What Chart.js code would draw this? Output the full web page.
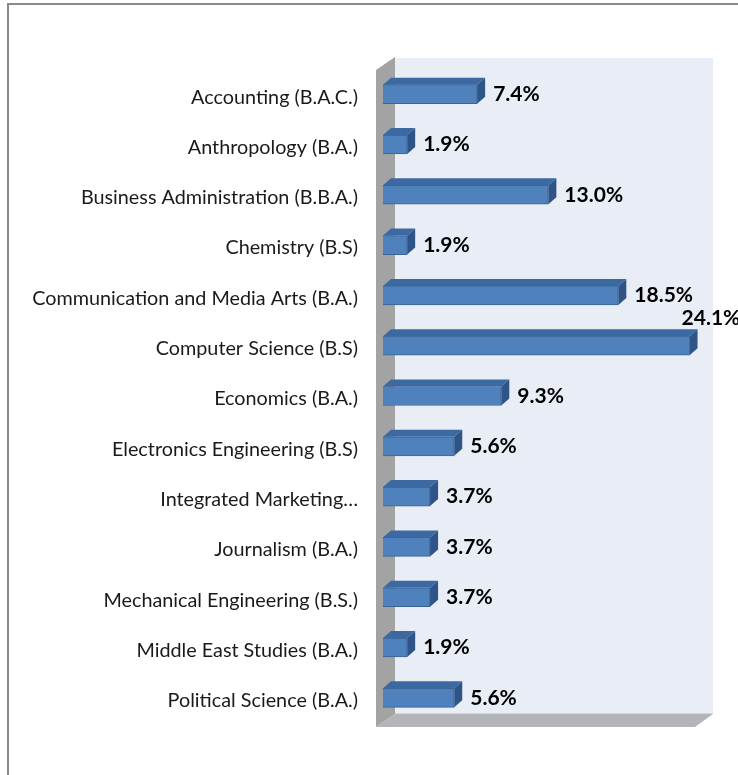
<!DOCTYPE html>
<html lang="en">
<head>
    <meta charset="UTF-8">
    <title>Majors</title>
    <style>
        body { margin: 0; background: #fff; }
        canvas { display: block; }
    </style>
</head>
<body>
    <canvas id="grafico" width="738" height="775"></canvas>

<script src="https://cdn.jsdelivr.net/npm/chart.js"></script>
<script>
    const categories = [
        'Accounting (B.A.C.)',
        'Anthropology (B.A.)',
        'Business Administration (B.B.A.)',
        'Chemistry (B.S)',
        'Communication and Media Arts (B.A.)',
        'Computer Science (B.S)',
        'Economics (B.A.)',
        'Electronics Engineering (B.S)',
        'Integrated Marketing\u2026',
        'Journalism (B.A.)',
        'Mechanical Engineering (B.S.)',
        'Middle East Studies (B.A.)',
        'Political Science (B.A.)'
    ];
    const percentages = [7.4, 1.9, 13.0, 1.9, 18.5, 24.1, 9.3, 5.6, 3.7, 3.7, 3.7, 1.9, 5.6];
    const axisMax = 25;

    // caixa 3D: parede, chao e faces das barras
    const efeito3d = {
        id: 'efeito3d',
        beforeDraw(chart) {
            const c = chart.ctx;
            c.save();
            c.strokeStyle = '#8a8a8a';
            c.lineWidth = 2;
            c.beginPath();
            c.moveTo(8, 775);
            c.lineTo(8, 4);
            c.lineTo(738, 4);
            c.stroke();
            c.restore();
        },
        beforeDatasetsDraw(chart) {
            const c = chart.ctx;
            const a = chart.chartArea;
            c.save();
            // parede do fundo
            c.fillStyle = '#E9EDF6';
            c.fillRect(a.left + 12, a.top - 11, a.right - a.left, a.bottom - a.top + 2);
            // parede esquerda
            c.fillStyle = '#A3A3A3';
            c.beginPath();
            c.moveTo(a.left - 7, a.top + 1);
            c.lineTo(a.left + 12, a.top - 12);
            c.lineTo(a.left + 12, a.bottom - 9);
            c.lineTo(a.left - 7, a.bottom + 4);
            c.closePath();
            c.fill();
            // chao
            c.fillStyle = '#B3B5B9';
            c.beginPath();
            c.moveTo(a.left - 7, a.bottom + 4);
            c.lineTo(a.right - 6, a.bottom + 4);
            c.lineTo(a.right + 12, a.bottom - 9);
            c.lineTo(a.left + 12, a.bottom - 9);
            c.closePath();
            c.fill();
            c.strokeStyle = '#D4D6D9';
            c.lineWidth = 1;
            c.beginPath();
            c.moveTo(a.left + 12, a.bottom - 9.5);
            c.lineTo(a.right + 12, a.bottom - 9.5);
            c.stroke();
            c.restore();
        },
        afterDatasetsDraw(chart) {
            const c = chart.ctx;
            const meta = chart.getDatasetMeta(0);
            c.save();
            meta.data.forEach((bar, i) => {
                const p = bar.getProps(['x', 'y', 'base', 'height'], true);
                const top = p.y - p.height / 2;
                const bot = p.y + p.height / 2;
                // face de cima
                c.fillStyle = '#3D69A3';
                c.beginPath();
                c.moveTo(p.base, top);
                c.lineTo(p.x, top);
                c.lineTo(p.x + 8, top - 7);
                c.lineTo(p.base + 8, top - 7);
                c.closePath();
                c.fill();
                // face lateral
                c.fillStyle = '#2F5487';
                c.beginPath();
                c.moveTo(p.x, top);
                c.lineTo(p.x + 8, top - 7);
                c.lineTo(p.x + 8, bot - 7);
                c.lineTo(p.x, bot);
                c.closePath();
                c.fill();

                // rotulo
                const txt = percentages[i].toFixed(1) + '%';
                c.font = 'bold 21px Lato';
                c.fillStyle = '#000';
                c.textBaseline = 'middle';
                c.textAlign = 'left';
                const w = c.measureText(txt).width;
                let lx = p.x + 16;
                let ly = p.y;
                if (lx + w > chart.width + 20) {
                    lx = p.x - 8;
                    ly = p.y - 27;
                }
                c.fillText(txt, lx, ly);
            });
            c.restore();
        }
    };

    const ctx = document.getElementById('grafico').getContext('2d');
    const grafico = new Chart(ctx, {
        type: 'bar',
        data: {
            labels: categories,
            datasets: [{
                data: percentages,
                backgroundColor: '#4F81BD',
                borderColor: '#3A6496',
                borderWidth: 1,
                barThickness: 19
            }]
        },
        options: {
            indexAxis: 'y',
            responsive: false,
            animation: false,
            layout: {
                padding: { left: 0, top: 69, right: 37, bottom: 52 }
            },
            plugins: {
                legend: { display: false },
                tooltip: { enabled: false }
            },
            scales: {
                x: {
                    display: false,
                    min: 0,
                    max: axisMax
                },
                y: {
                    grid: { display: false, drawTicks: false },
                    border: { display: false },
                    ticks: {
                        padding: 25,
                        labelOffset: 3,
                        color: '#1a1a1a',
                        font: { family: 'Lato', size: 19.8 }
                    },
                    afterFit(scale) {
                        scale.width = 383;
                    }
                }
            }
        },
        plugins: [efeito3d]
    });
</script>
</body>
</html>
